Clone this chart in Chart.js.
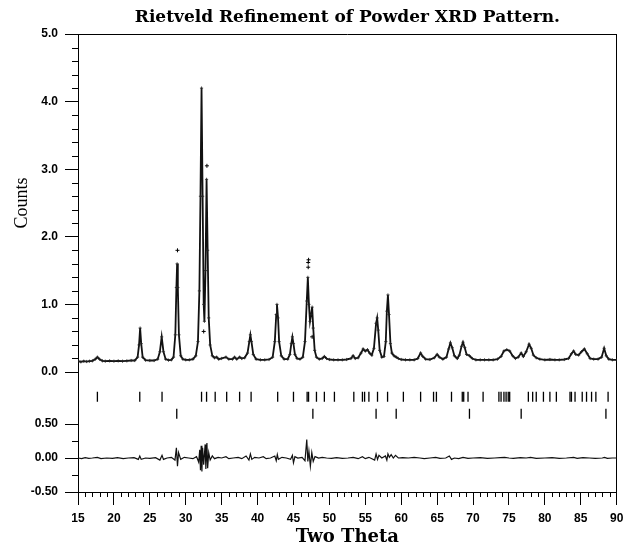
<!DOCTYPE html>
<html>
<head>
<meta charset="utf-8">
<script src="https://cdn.jsdelivr.net/npm/chart.js@4.4.1/dist/chart.umd.min.js"></script>
<style>
  html, body { margin: 0; padding: 0; background: #fff; }
  #wrap { width: 623px; height: 546px; }
</style>
</head>
<body>
<div id="wrap"><canvas id="rietveld" width="623" height="546"></canvas></div>
<script>
const chartTitle = 'Rietveld Refinement of Powder XRD Pattern.';

// observed / calculated pattern, [two theta, counts]
const pattern = [
  [15.0,0.16],[15.4,0.15],[15.8,0.16],[16.2,0.155],[16.6,0.16],[17.0,0.165],[17.4,0.19],[17.7,0.22],
  [18.0,0.19],[18.4,0.165],[18.8,0.16],[19.4,0.165],[20.0,0.16],[20.6,0.165],[21.2,0.16],[21.8,0.165],
  [22.4,0.17],[22.9,0.17],[23.3,0.22],[23.5,0.40],[23.65,0.65],[23.8,0.42],[24.0,0.22],[24.4,0.175],
  [25.0,0.17],[25.6,0.17],[26.1,0.19],[26.4,0.30],[26.65,0.52],[26.9,0.30],[27.2,0.19],[27.6,0.175],
  [28.0,0.18],[28.3,0.22],[28.55,0.55],[28.7,1.25],[28.8,1.60],[28.9,1.25],[29.05,0.55],[29.3,0.24],
  [29.6,0.19],[30.0,0.18],[30.5,0.18],[31.0,0.19],[31.4,0.24],[31.7,0.45],[31.9,1.2],[32.05,2.6],
  [32.2,4.2],[32.35,2.6],[32.5,1.0],[32.6,0.75],[32.75,1.5],[32.9,2.85],[33.05,1.8],[33.2,0.8],
  [33.4,0.4],[33.7,0.24],[34.0,0.21],[34.3,0.22],[34.6,0.19],[35.0,0.2],[35.6,0.22],[36.0,0.19],
  [36.5,0.19],[36.8,0.22],[37.1,0.19],[37.5,0.22],[37.8,0.2],[38.2,0.21],[38.6,0.28],[38.85,0.45],
  [39.0,0.55],[39.15,0.45],[39.4,0.26],[39.8,0.19],[40.4,0.18],[41.0,0.18],[41.6,0.185],[42.1,0.22],
  [42.4,0.45],[42.6,0.85],[42.7,1.0],[42.85,0.8],[43.0,0.45],[43.3,0.24],[43.7,0.19],[44.2,0.19],
  [44.5,0.26],[44.7,0.42],[44.85,0.52],[45.0,0.42],[45.2,0.26],[45.5,0.2],[45.9,0.19],[46.3,0.22],
  [46.6,0.45],[46.85,1.05],[47.0,1.4],[47.15,1.0],[47.3,0.75],[47.45,0.85],[47.6,0.96],[47.75,0.65],
  [47.95,0.32],[48.2,0.22],[48.6,0.19],[49.0,0.2],[49.3,0.23],[49.6,0.2],[50.0,0.185],[50.6,0.18],
  [51.2,0.18],[51.8,0.18],[52.4,0.185],[53.0,0.2],[53.3,0.24],[53.6,0.2],[54.0,0.21],[54.4,0.28],
  [54.7,0.34],[55.0,0.31],[55.3,0.33],[55.6,0.28],[55.9,0.25],[56.2,0.35],[56.5,0.72],[56.65,0.80],
  [56.8,0.62],[57.0,0.32],[57.3,0.22],[57.6,0.23],[57.85,0.45],[58.0,0.9],[58.15,1.14],[58.3,0.85],
  [58.5,0.42],[58.7,0.28],[59.0,0.24],[59.3,0.22],[59.6,0.2],[60.0,0.185],[60.6,0.18],[61.2,0.18],
  [61.8,0.18],[62.3,0.2],[62.7,0.28],[63.0,0.23],[63.4,0.19],[64.0,0.185],[64.6,0.21],[65.0,0.26],
  [65.3,0.22],[65.8,0.19],[66.3,0.22],[66.6,0.34],[66.85,0.43],[67.1,0.36],[67.4,0.24],[67.8,0.2],
  [68.1,0.25],[68.4,0.38],[68.6,0.44],[68.85,0.36],[69.1,0.26],[69.5,0.24],[69.9,0.2],[70.4,0.18],
  [71.0,0.18],[71.6,0.18],[72.2,0.18],[72.8,0.18],[73.4,0.19],[73.9,0.23],[74.3,0.31],[74.7,0.33],
  [75.1,0.31],[75.5,0.24],[75.9,0.2],[76.3,0.22],[76.7,0.28],[77.0,0.23],[77.4,0.3],[77.8,0.41],
  [78.1,0.35],[78.4,0.25],[78.8,0.21],[79.3,0.19],[80.0,0.18],[80.7,0.185],[81.4,0.18],[82.0,0.18],
  [82.7,0.185],[83.3,0.2],[83.7,0.27],[84.0,0.31],[84.3,0.26],[84.7,0.25],[85.1,0.3],[85.5,0.34],
  [85.9,0.27],[86.3,0.2],[86.8,0.19],[87.4,0.19],[87.9,0.22],[88.25,0.35],[88.55,0.24],[88.9,0.19],
  [89.4,0.18],[90.0,0.18]
];

// observed points that sit off the fitted curve
const outliers = [[28.85,1.8],[32.95,3.05],[47.05,1.55],[47.05,1.62],[47.1,1.66],[32.5,0.6],[47.6,0.52]];

// difference curve (obs - calc)
const difference = [
  [15.0,0.0],[15.5,-0.01],[16.0,0.005],[16.5,-0.005],[17.0,0.0],[17.7,0.01],[18.2,-0.01],[19.0,0.0],
  [19.8,-0.005],[20.5,0.005],[21.3,-0.01],[22.0,0.0],[22.8,0.005],[23.4,-0.02],[23.6,0.03],[23.8,-0.02],
  [24.4,0.0],[25.0,-0.005],[25.8,0.005],[26.4,-0.03],[26.7,0.04],[26.9,-0.02],[27.4,0.0],[28.0,0.01],
  [28.5,-0.03],[28.7,0.15],[28.85,-0.12],[29.0,0.08],[29.3,-0.02],[29.8,0.01],[30.4,0.0],[31.0,-0.01],
  [31.5,0.02],[31.8,-0.06],[31.95,0.12],[32.05,-0.18],[32.15,0.18],[32.25,-0.2],[32.35,0.15],[32.5,-0.1],
  [32.7,0.2],[32.8,-0.16],[32.95,0.22],[33.05,-0.15],[33.2,0.08],[33.4,-0.03],[33.7,0.03],[34.0,-0.01],
  [34.5,0.01],[35.0,0.0],[35.6,0.02],[36.0,-0.01],[36.6,0.0],[37.3,0.01],[37.8,-0.01],[38.4,0.03],
  [38.8,-0.03],[39.0,0.06],[39.2,-0.02],[39.6,0.01],[40.2,0.0],[40.8,0.02],[41.2,-0.01],[41.8,0.0],
  [42.4,0.03],[42.6,-0.04],[42.75,0.05],[42.9,-0.02],[43.4,0.01],[44.0,0.0],[44.6,-0.02],[44.85,0.04],
  [45.0,-0.07],[45.2,0.02],[45.6,0.0],[46.2,0.01],[46.6,-0.04],[46.85,0.27],[47.0,-0.05],[47.15,0.1],
  [47.35,-0.12],[47.55,0.08],[47.75,-0.05],[48.0,0.02],[48.5,0.0],[49.0,0.01],[49.6,0.0],[50.3,-0.005],
  [51.0,0.005],[51.8,-0.005],[52.6,0.0],[53.3,0.01],[54.0,-0.01],[54.6,0.02],[55.0,-0.01],[55.5,0.01],
  [56.3,-0.03],[56.5,0.06],[56.7,-0.02],[56.9,0.04],[57.3,0.0],[57.8,0.03],[58.0,-0.03],[58.15,0.06],
  [58.35,0.01],[58.6,0.05],[58.9,0.0],[59.2,0.04],[59.6,0.0],[60.2,0.005],[61.0,0.0],[61.8,0.01],
  [62.6,0.0],[63.2,-0.01],[64.0,0.0],[64.8,0.01],[65.4,-0.005],[66.2,0.0],[66.7,0.03],[67.0,-0.02],
  [67.4,0.0],[68.0,-0.01],[68.6,0.01],[69.3,-0.005],[70.0,0.0],[71.0,0.005],[72.0,-0.005],[73.0,0.0],
  [73.8,0.005],[74.4,0.01],[75.0,0.0],[75.6,-0.005],[76.6,0.005],[77.4,0.0],[78.0,0.01],[78.8,-0.005],
  [80.0,0.0],[81.0,0.005],[82.0,-0.005],[83.0,0.0],[84.0,0.01],[84.5,-0.005],[85.3,0.005],[86.2,0.0],
  [87.0,-0.005],[88.0,0.0],[88.3,0.01],[88.7,-0.005],[89.4,0.0],[90.0,0.0]
];

// reflection positions, two phases
const phase1Peaks = [17.7,23.6,26.7,32.2,32.9,34.1,35.7,37.5,39.1,42.8,45.0,46.9,47.1,48.2,49.3,50.7,
  53.4,54.6,54.9,55.5,56.7,58.1,60.3,62.7,64.5,64.9,67.0,68.5,68.7,69.3,71.4,73.6,73.9,74.3,74.6,74.9,
  75.1,77.7,78.3,78.8,79.8,80.7,81.6,83.5,83.7,84.2,85.2,85.8,86.5,87.1,88.8];
const phase2Peaks = [28.75,47.7,56.5,59.3,69.5,76.7,88.5];
const phase1Row = 0.90;
const phase2Row = 0.65;

const thetaTicks = [15,20,25,30,35,40,45,50,55,60,65,70,75,80,85,90];
const countsTicks = [0,1,2,3,4,5];
const diffTicks = [-0.5,0,0.5];
const diffMinor = [-0.25,0.25];

const thetaMinor = [];
for (let t = 16; t < 90; t++) if (t % 5) thetaMinor.push(t);
const countsMinor = [];
for (let c = 1; c < 25; c++) if (c % 5) countsMinor.push(c / 5);

const tickFont = { family: '"Liberation Sans", Arial, sans-serif', weight: 'bold', size: 12 };
const toXY = arr => arr.map(p => ({ x: p[0], y: p[1] }));

// short minor tick marks along the axes
const minorTicks = {
  id: 'minorTicks',
  afterDraw(chart) {
    const { ctx, scales } = chart;
    const yt = scales.yTop, yl = scales.yLow, xs = scales.x;
    ctx.save();
    ctx.strokeStyle = '#000';
    ctx.lineWidth = 1;
    ctx.beginPath();
    countsMinor.forEach(v => {
      const p = Math.round(yt.getPixelForValue(v)) + 0.5;
      ctx.moveTo(yt.right - 6, p); ctx.lineTo(yt.right, p);
    });
    diffMinor.forEach(v => {
      const p = Math.round(yl.getPixelForValue(v)) + 0.5;
      ctx.moveTo(yl.right - 6, p); ctx.lineTo(yl.right, p);
    });
    thetaMinor.forEach(v => {
      const p = Math.round(xs.getPixelForValue(v)) + 0.5;
      ctx.moveTo(p, xs.top); ctx.lineTo(p, xs.top + 5);
    });
    ctx.stroke();
    ctx.restore();
  }
};

const leftAxis = (min, max, weight, ticks, fmt) => ({
  type: 'linear', position: 'left', stack: 'rv', stackWeight: weight,
  min, max,
  afterBuildTicks: s => { s.ticks = ticks.map(v => ({ value: v })); },
  afterFit: s => { s.width = 78; s.paddingTop = 0; s.paddingBottom = 0; },
  ticks: { font: tickFont, color: '#000', padding: 7, callback: v => v.toFixed(fmt) },
  grid: { drawOnChartArea: false, tickLength: 13, color: '#000', tickColor: '#000' },
  border: { color: '#000', width: 1 }
});

new Chart(document.getElementById('rietveld'), {
  type: 'scatter',
  data: {
    datasets: [
      { label: 'Calc', data: toXY(pattern), yAxisID: 'yTop', showLine: true,
        borderColor: '#111', borderWidth: 1.8, pointStyle: 'cross', pointRadius: 1.6,
        pointBorderWidth: 0.8, pointBorderColor: '#222' },
      { label: 'Obs', data: toXY(outliers), yAxisID: 'yTop',
        pointStyle: 'cross', pointRadius: 2, pointBorderWidth: 1, pointBorderColor: '#000' },
      { label: 'Phase 1', data: phase1Peaks.map(x => ({ x, y: phase1Row })), yAxisID: 'yLow',
        pointStyle: 'line', rotation: 90, pointRadius: 5, pointBorderWidth: 1.3, pointBorderColor: '#000' },
      { label: 'Phase 2', data: phase2Peaks.map(x => ({ x, y: phase2Row })), yAxisID: 'yLow',
        pointStyle: 'line', rotation: 90, pointRadius: 5, pointBorderWidth: 1.3, pointBorderColor: '#000' },
      { label: 'Diff', data: toXY(difference), yAxisID: 'yLow', showLine: true,
        borderColor: '#111', borderWidth: 1.2, pointRadius: 0 }
    ]
  },
  options: {
    responsive: false,
    animation: false,
    layout: { padding: 0 },
    plugins: { legend: { display: false }, tooltip: { enabled: false } },
    scales: {
      x: {
        type: 'linear', position: 'bottom', min: 15, max: 90,
        afterBuildTicks: s => { s.ticks = thetaTicks.map(v => ({ value: v })); },
        afterFit: s => { s.height = 54; s.paddingLeft = 0; s.paddingRight = 0; },
        ticks: { font: tickFont, color: '#000', padding: 6, maxRotation: 0, autoSkip: false },
        grid: { drawOnChartArea: false, tickLength: 13, color: '#000' },
        border: { color: '#000', width: 1 },
        title: { display: true, text: 'Two Theta', color: '#000', padding: 0,
          font: { family: '"DejaVu Serif", serif', weight: 'bold', size: 18, lineHeight: 1 } }
      },
      xTop: {
        type: 'linear', position: 'top', min: 15, max: 90,
        afterFit: s => { s.height = 34; s.paddingLeft = 0; s.paddingRight = 0; },
        ticks: { display: false },
        grid: { drawOnChartArea: false, drawTicks: false },
        border: { color: '#000', width: 1 },
        title: { display: true, text: chartTitle, color: '#000', padding: { top: 7, bottom: 0 },
          font: { family: '"DejaVu Serif", serif', weight: 'bold', size: 17 } }
      },
      yLow: leftAxis(-0.5, 1.265, 120, diffTicks, 2),
      yTop: Object.assign(leftAxis(0, 5, 338, countsTicks, 1), {
        title: { display: true, text: 'Counts', color: '#000', padding: { top: 11, bottom: 0 },
          font: { family: '"Liberation Serif", "Times New Roman", serif', size: 18 } }
      }),
      yRight: {
        type: 'linear', position: 'right', min: 0, max: 1,
        afterFit: s => { s.width = 6; },
        ticks: { display: false },
        grid: { drawOnChartArea: false, drawTicks: false },
        border: { color: '#000', width: 1 }
      }
    }
  },
  plugins: [minorTicks]
});
</script>
</body>
</html>
